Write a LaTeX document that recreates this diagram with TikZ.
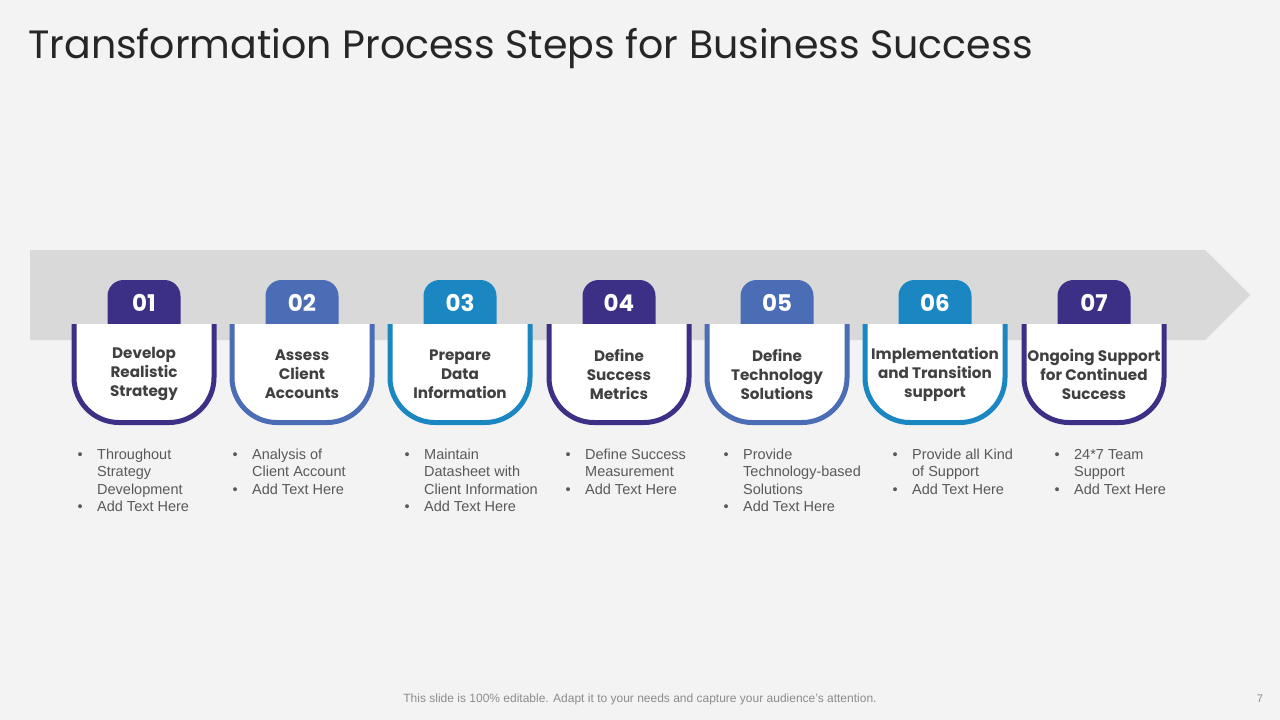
\documentclass[tikz,border=0pt]{standalone}
\usepackage{fontspec}
\usepackage{xcolor}
\usepackage{tikz}
\setmainfont{Liberation Sans}
\newfontfamily\gothic{Poppins}
\definecolor{bgcol}{HTML}{F3F3F3}
\definecolor{bandgray}{HTML}{D9D9D9}
\definecolor{stepviolet}{HTML}{3B2F86}
\definecolor{stepblue}{HTML}{4A6DB5}
\definecolor{stepcyan}{HTML}{1A87C2}
\definecolor{titlegray}{HTML}{262626}
\definecolor{labelgray}{HTML}{404040}
\definecolor{textgray}{HTML}{595959}
\definecolor{notegray}{HTML}{8C8C8C}
\tikzset{
  numtext/.style={text=white, font=\gothic\bfseries\fontsize{23}{23}\selectfont, inner sep=0},
  cardtext/.style={text=labelgray, font=\gothic\bfseries\fontsize{15.2}{19}\selectfont, align=center, inner sep=0},
  bullettext/.style={text=textgray, font=\fontsize{14.5}{17.5}\selectfont, anchor=north west, inner sep=0},
  cardline/.style={line width=5pt, fill=white, rounded corners=45pt},
}
\begin{document}
\begin{tikzpicture}[x=1pt,y=-1pt]
\useasboundingbox (0,0) rectangle (1280,720);
\fill[bgcol] (0,0) rectangle (1280,720);
\node[anchor=base west, inner sep=0, text=titlegray, font=\gothic\fontsize{39.5}{40}\selectfont] (title) at (28,58) {Transformation Process Steps for Business Success};
\fill[bandgray] (30,250) -- (1205,250) -- (1250,295) -- (1205,340) -- (30,340) -- cycle;
\foreach \i/\x/\col/\ttl in {1/144/stepviolet/{Develop\\Realistic\\Strategy},
    2/302/stepblue/{Assess\\Client\\Accounts},
    3/460/stepcyan/{Prepare\\Data\\Information},
    4/619/stepviolet/{Define\\Success\\Metrics},
    5/777/stepblue/{Define\\Technology\\Solutions},
    6/935/stepcyan/{Implementation\\and Transition\\support},
    7/1094/stepviolet/{Ongoing Support\\for Continued\\Success}}
{
\fill[\col, rounded corners=16pt] (\x-36.5,280) rectangle (\x+36.5,345);
\path[cardline, draw=\col] (\x-70,324) -- (\x-70,422.5) -- (\x+70,422.5) -- (\x+70,324);
\node[numtext] (num\i) at (\x,303) {0\i};
\node[cardtext] (card\i) at (\x,374) {\ttl};
}
\node[bullettext] (list1) at (77.5,447) {\begin{tabular}{@{}l@{\hspace{14.4pt}}l@{}}\textbullet & Throughout\\ & Strategy\\ & Development\\ \textbullet & Add Text Here\end{tabular}};
\node[bullettext] (list2) at (232.5,447) {\begin{tabular}{@{}l@{\hspace{14.4pt}}l@{}}\textbullet & Analysis of\\ & Client Account\\ \textbullet & Add Text Here\end{tabular}};
\node[bullettext] (list3) at (404.5,447) {\begin{tabular}{@{}l@{\hspace{14.4pt}}l@{}}\textbullet & Maintain\\ & Datasheet with\\ & Client Information\\ \textbullet & Add Text Here\end{tabular}};
\node[bullettext] (list4) at (565.5,447) {\begin{tabular}{@{}l@{\hspace{14.4pt}}l@{}}\textbullet & Define Success\\ & Measurement\\ \textbullet & Add Text Here\end{tabular}};
\node[bullettext] (list5) at (723.5,447) {\begin{tabular}{@{}l@{\hspace{14.4pt}}l@{}}\textbullet & Provide\\ & Technology-based\\ & Solutions\\ \textbullet & Add Text Here\end{tabular}};
\node[bullettext] (list6) at (892.5,447) {\begin{tabular}{@{}l@{\hspace{14.4pt}}l@{}}\textbullet & Provide all Kind\\ & of Support\\ \textbullet & Add Text Here\end{tabular}};
\node[bullettext] (list7) at (1054.5,447) {\begin{tabular}{@{}l@{\hspace{14.4pt}}l@{}}\textbullet & 24*7 Team\\ & Support\\ \textbullet & Add Text Here\end{tabular}};
\node[text=notegray, font=\fontsize{12}{12}\selectfont, inner sep=0] (note) at (640,699) {This slide is 100\% editable. Adapt it to your needs and capture your audience's attention.};
\node[text=notegray, font=\fontsize{11}{11}\selectfont, inner sep=0] (pagenum) at (1260,699) {7};
\end{tikzpicture}
\end{document}
